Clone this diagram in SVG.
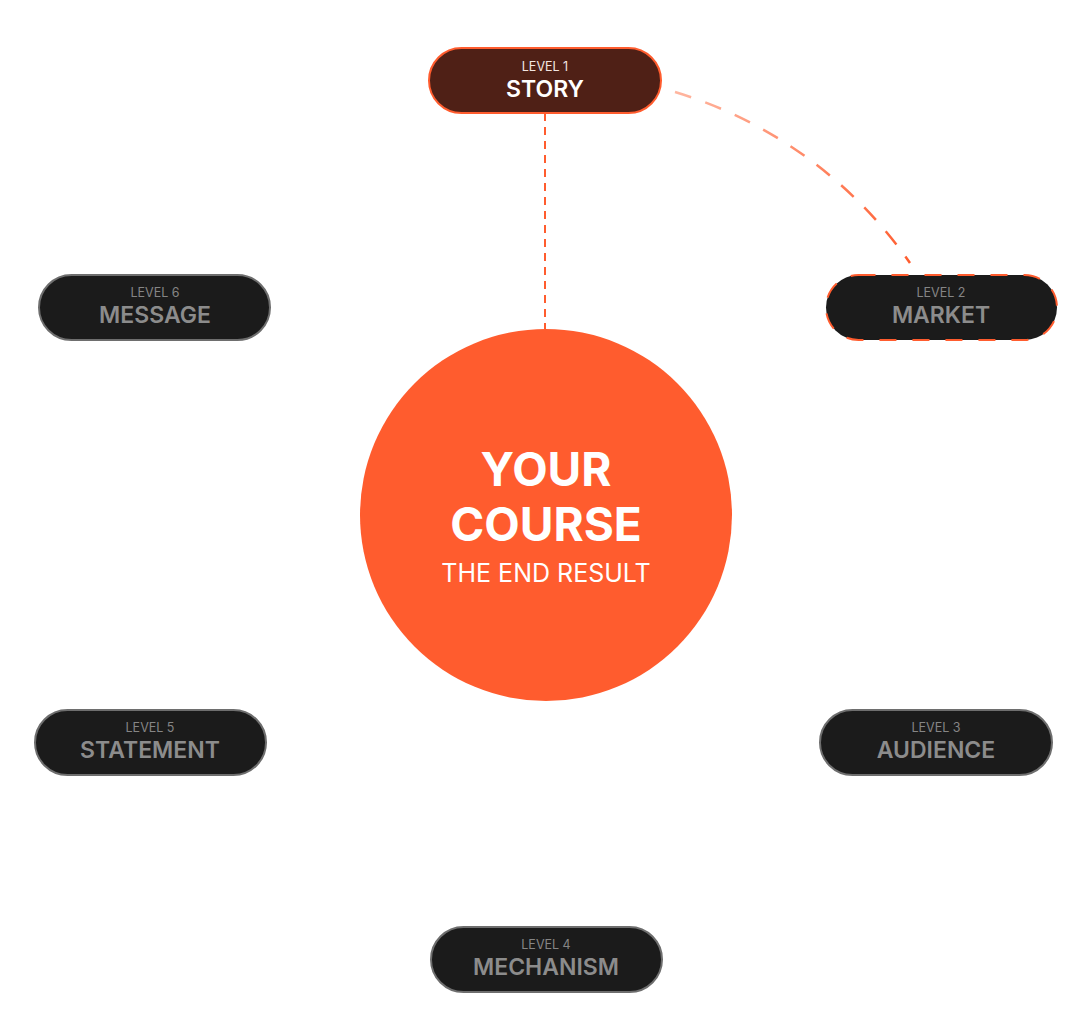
<svg xmlns="http://www.w3.org/2000/svg" width="1092" height="1032" viewBox="0 0 1092 1032">
<style>
.pill{fill:#1b1b1b;stroke:#6e6e6e;stroke-width:2}
.lvl{font-family:Inter,"Liberation Sans",sans-serif;font-size:12.5px;fill:#858585;text-anchor:middle}
.name{font-family:Inter,"Liberation Sans",sans-serif;font-size:23px;font-weight:600;fill:#8c8c8c;text-anchor:middle}
.big{font-family:Inter,"Liberation Sans",sans-serif;font-size:46px;font-weight:700;fill:#ffffff;text-anchor:middle}
.sub{font-family:Inter,"Liberation Sans",sans-serif;font-size:25px;fill:#ffffff;text-anchor:middle}
</style>
<defs>
<linearGradient id="arcg" gradientUnits="userSpaceOnUse" x1="675" y1="92" x2="910" y2="263">
<stop offset="0" stop-color="#ffb6a0"/>
<stop offset="1" stop-color="#ff5c2e"/>
</linearGradient>
</defs>
<rect width="1092" height="1032" fill="#ffffff"/>
<g id="connectors">
<line x1="545" y1="113" x2="545" y2="329" stroke="#ff5c2e" stroke-width="2" stroke-dasharray="8 6"/>
<path d="M675,92 A442,442 0 0 1 910,263" fill="none" stroke="url(#arcg)" stroke-width="2.5" stroke-dasharray="17 15"/>
</g>
<g id="center">
<circle cx="546" cy="515" r="186" fill="#ff5c2e"/>
<text class="big" x="546" y="486">YOUR</text>
<text class="big" x="546" y="541">COURSE</text>
<text class="sub" x="546" y="582">THE END RESULT</text>
</g>
<g id="level1">
<rect x="429" y="48" width="232" height="65" rx="32.5" fill="#4f2016" stroke="#ff5c2e" stroke-width="2"/>
<text class="lvl" x="545" y="71" style="fill:#f3e6e2">LEVEL 1</text>
<text class="name" x="545" y="97" style="fill:#ffffff">STORY</text>
</g>
<g id="level2">
<rect x="826" y="275" width="231" height="65" rx="32.5" fill="#1b1b1b" stroke="#ff5c2e" stroke-width="2" stroke-dasharray="17 16"/>
<text class="lvl" x="941" y="297">LEVEL 2</text>
<text class="name" x="941" y="323">MARKET</text>
</g>
<g id="level3">
<rect class="pill" x="820" y="710" width="232" height="65" rx="32.5"/>
<text class="lvl" x="936" y="732">LEVEL 3</text>
<text class="name" x="936" y="758">AUDIENCE</text>
</g>
<g id="level4">
<rect class="pill" x="431" y="927" width="231" height="65" rx="32.5"/>
<text class="lvl" x="546" y="949">LEVEL 4</text>
<text class="name" x="546" y="975">MECHANISM</text>
</g>
<g id="level5">
<rect class="pill" x="35" y="710" width="231" height="65" rx="32.5"/>
<text class="lvl" x="150" y="732">LEVEL 5</text>
<text class="name" x="150" y="758">STATEMENT</text>
</g>
<g id="level6">
<rect class="pill" x="39" y="275" width="231" height="65" rx="32.5"/>
<text class="lvl" x="155" y="297">LEVEL 6</text>
<text class="name" x="155" y="323">MESSAGE</text>
</g>
</svg>
